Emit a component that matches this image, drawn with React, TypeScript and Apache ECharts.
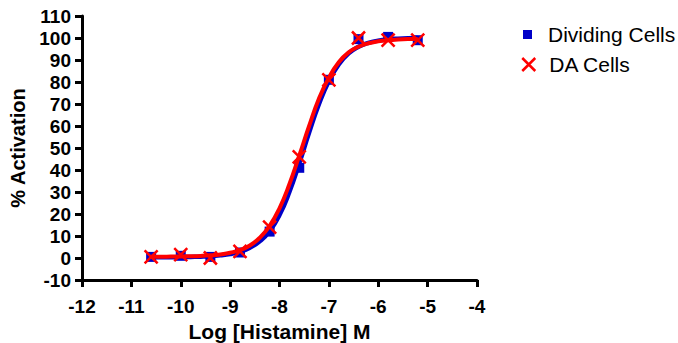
import React, { useEffect, useRef } from "react";
import * as echarts from "echarts";

const logDose = [-10.6, -10.0, -9.4, -8.8, -8.2, -7.6, -7.0, -6.4, -5.8, -5.2];
const dividingCells = [0.5, 1.0, 0.5, 2.5, 12, 41, 81, 99.5, 100.5, 99];
const daCells = [0.5, 1.5, 0, 3, 14, 46, 81, 100, 99, 99];

const curveX = [
  -10.6, -10.4, -10.2, -10.0, -9.8, -9.6, -9.4, -9.2, -9.0, -8.8, -8.6, -8.4, -8.2, -8.0,
  -7.8, -7.6, -7.4, -7.2, -7.0, -6.8, -6.6, -6.4, -6.2, -6.0, -5.8, -5.6, -5.4, -5.2,
];
const dividingFit = [
  0.3, 0.3, 0.35, 0.4, 0.5, 0.6, 0.8, 1.2, 1.8, 2.9, 4.7, 7.6, 12.2, 19.5,
  30, 43, 57, 70, 80.5, 88, 93, 96, 97.8, 98.8, 99.4, 99.7, 99.9, 100,
];
const daFit = [
  0.6, 0.6, 0.65, 0.7, 0.8, 0.95, 1.2, 1.6, 2.4, 3.6, 5.7, 9.2, 14.6, 22.6,
  33.5, 46.5, 60, 72.5, 82, 89, 93.5, 96, 97.6, 98.5, 99, 99.3, 99.5, 99.6,
];

const BLUE = "#0000c8";
const RED = "#ff0000";
const X_PATH = "path://M0,0L10,10M10,0L0,10";

export default function App() {
  const ref = useRef<HTMLDivElement>(null);
  useEffect(() => {
    if (!ref.current) return;
    const chart = echarts.init(ref.current, null, { renderer: "svg" });
    const font = "'Liberation Sans', Arial, sans-serif";
    chart.setOption({
      animation: false,
      textStyle: { fontFamily: font },
      grid: {
        left: 82,
        right: 201,
        top: 16,
        bottom: 63,
        containLabel: false,
        outerBoundsMode: "none",
      },
      legend: [
        {
          data: [{ name: "Dividing Cells", icon: "rect", itemStyle: { color: BLUE } }],
          left: 523,
          top: 24,
          padding: 0,
          itemWidth: 9,
          itemHeight: 9,
          textStyle: { fontSize: 21, color: "#000", fontFamily: font, padding: [0, 0, 0, 11] },
        },
        {
          data: [
            {
              name: "DA Cells",
              icon: X_PATH,
              itemStyle: { color: "rgba(0,0,0,0)", borderColor: RED, borderWidth: 2.5 },
            },
          ],
          left: 521,
          top: 54,
          padding: 0,
          itemWidth: 13,
          itemHeight: 13,
          textStyle: { fontSize: 21, color: "#000", fontFamily: font, padding: [0, 0, 0, 9] },
        },
      ],
      xAxis: {
        type: "value",
        min: -12,
        max: -4,
        interval: 1,
        name: "Log [Histamine] M",
        nameLocation: "middle",
        nameGap: 41,
        nameTextStyle: { fontSize: 21, fontWeight: "bold", color: "#000", fontFamily: font },
        axisLine: { onZero: false, lineStyle: { color: "#000", width: 3 } },
        axisTick: { length: 7, lineStyle: { color: "#000", width: 3 } },
        axisLabel: { fontSize: 19, fontWeight: "bold", color: "#000", margin: 17, fontFamily: font },
        splitLine: { show: false },
      },
      yAxis: {
        type: "value",
        min: -10,
        max: 110,
        interval: 10,
        name: "% Activation",
        nameLocation: "middle",
        nameGap: 52,
        nameTextStyle: { fontSize: 20, fontWeight: "bold", color: "#000", fontFamily: font },
        axisLine: { show: true, onZero: false, lineStyle: { color: "#000", width: 3 } },
        axisTick: { show: true, length: 7, lineStyle: { color: "#000", width: 3 } },
        axisLabel: { fontSize: 19, fontWeight: "bold", color: "#000", margin: 11, fontFamily: font },
        splitLine: { show: false },
      },
      series: [
        {
          name: "Dividing Cells Fit",
          type: "line",
          data: curveX.map((x, i) => [x, dividingFit[i]]),
          smooth: true,
          showSymbol: false,
          lineStyle: { color: BLUE, width: 4.5 },
          z: 2,
        },
        {
          name: "Dividing Cells",
          type: "scatter",
          data: logDose.map((x, i) => [x, dividingCells[i]]),
          symbol: "rect",
          symbolSize: 10,
          itemStyle: { color: BLUE, opacity: 1 },
          z: 3,
        },
        {
          name: "DA Cells Fit",
          type: "line",
          data: curveX.map((x, i) => [x, daFit[i]]),
          smooth: true,
          showSymbol: false,
          lineStyle: { color: RED, width: 4 },
          z: 4,
        },
        {
          name: "DA Cells",
          type: "scatter",
          data: logDose.map((x, i) => [x, daCells[i]]),
          symbol: X_PATH,
          symbolSize: 13,
          itemStyle: { color: "rgba(0,0,0,0)", borderColor: RED, borderWidth: 2.5, opacity: 1 },
          z: 5,
        },
      ],
    });
    return () => chart.dispose();
  }, []);
  return (
    <div
      ref={ref}
      style={{ position: "absolute", left: 0, top: 0, width: 678, height: 343 }}
    />
  );
}
